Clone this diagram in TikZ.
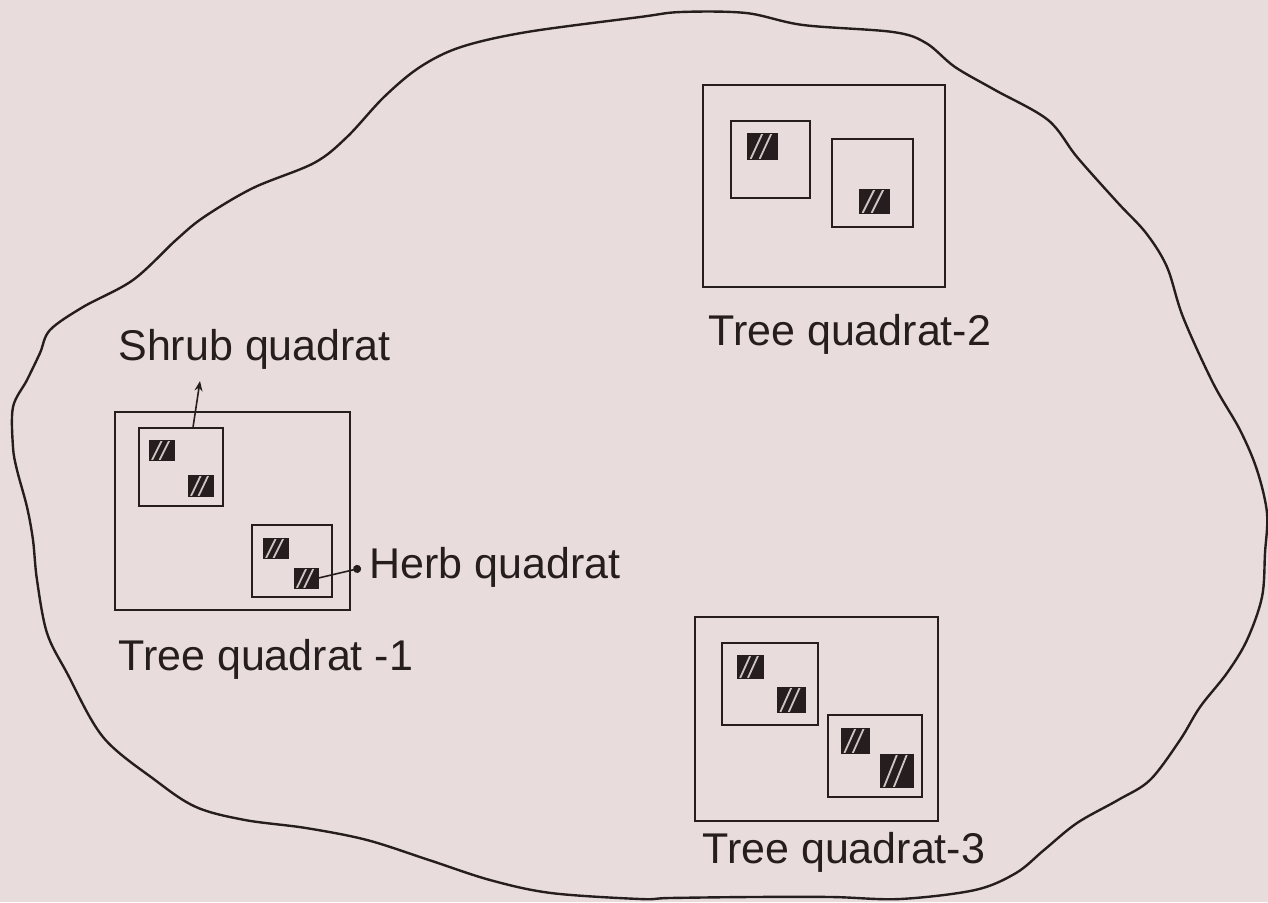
\documentclass[tikz,border=0pt]{standalone}
\usepackage{fontspec}
\setmainfont{Liberation Sans}
\usetikzlibrary{calc,arrows.meta}

\definecolor{paper}{RGB}{232,221,220}
\definecolor{ink}{RGB}{38,30,30}
\definecolor{streak}{RGB}{205,196,195}

\tikzset{
  treebox/.style={draw=ink, line width=1.2pt, inner sep=0pt},
  shrubbox/.style={draw=ink, line width=1.1pt, inner sep=0pt},
  herbbox/.style={draw=ink, fill=ink, line width=0.5pt, inner sep=0pt,
    path picture={
      \draw[streak, line width=0.9pt]
        ($(path picture bounding box.south west)!0.12!(path picture bounding box.south east)$) --
        ($(path picture bounding box.north west)!0.52!(path picture bounding box.north east)$);
      \draw[streak, line width=0.9pt]
        ($(path picture bounding box.south west)!0.42!(path picture bounding box.south east)$) --
        ($(path picture bounding box.north west)!0.82!(path picture bounding box.north east)$);
    }},
  lbl/.style={inner sep=0pt, anchor=base west, text=ink,
    font=\fontsize{21.5}{25}\selectfont},
  pointer/.style={draw=ink, line width=0.8pt},
}

\begin{document}
\begin{tikzpicture}[x=0.5pt, y=-0.5pt]
  \useasboundingbox (0,0) rectangle (1268,902);
  \fill[paper] (0,0) rectangle (1268,902);

  % outline of the sampled area
  \draw[ink, line width=1.2pt] plot[smooth cycle, tension=0.55] coordinates {
    (640,17) (681,12) (746,13) (803,25) (893,32) (926,43) (955,67)
    (995,90) (1048,120) (1077,157) (1118,203) (1146,233) (1167,267)
    (1183,317) (1213,383) (1240,430) (1257,470) (1267,513) (1265,553)
    (1262,597) (1247,640) (1227,673) (1200,707) (1180,740) (1150,780)
    (1118,800) (1077,823) (1044,850) (1016,873) (975,890) (900,899)
    (832,897) (750,897) (669,898) (640,899) (551,893) (490,880)
    (429,860) (367,840) (306,828) (245,820) (196,807) (155,780)
    (103,737) (67,673) (47,633) (37,580) (33,540) (27,507) (17,470)
    (13,447) (13,407) (27,380) (40,353) (50,330) (83,307) (133,280)
    (176,240) (204,217) (253,188) (314,163) (347,137) (384,97)
    (420,67) (461,47) (527,32)};

  % tree quadrat 1
  \node[treebox, minimum width=117.5pt, minimum height=99pt] (t1) at (232.5,511) {};
  \node[shrubbox, minimum width=42pt, minimum height=39pt] (s1) at (181,467) {};
  \node[herbbox, minimum width=12.5pt, minimum height=10pt] (h1) at (161.5,450) {};
  \node[herbbox, minimum width=12.5pt, minimum height=10.5pt] (h2) at (200.5,485.5) {};
  \node[shrubbox, minimum width=40pt, minimum height=36pt] (s2) at (292,561) {};
  \node[herbbox, minimum width=12.5pt, minimum height=10pt] (h3) at (275.5,548) {};
  \node[herbbox, minimum width=12pt, minimum height=10pt] (h4) at (306,578) {};

  % tree quadrat 2
  \node[treebox, minimum width=121pt, minimum height=101pt] (t2) at (824,186) {};
  \node[shrubbox, minimum width=39.5pt, minimum height=38.5pt] (s3) at (770.5,159.5) {};
  \node[herbbox, minimum width=15pt, minimum height=13pt] (h5) at (762,146) {};
  \node[shrubbox, minimum width=40.5pt, minimum height=44pt] (s4) at (872.5,183) {};
  \node[herbbox, minimum width=15pt, minimum height=12pt] (h6) at (874,201) {};

  % tree quadrat 3
  \node[treebox, minimum width=121.5pt, minimum height=102pt] (t3) at (816.5,719) {};
  \node[shrubbox, minimum width=48pt, minimum height=41pt] (s5) at (770,684) {};
  \node[herbbox, minimum width=13pt, minimum height=11.5pt] (h7) at (750,666.5) {};
  \node[herbbox, minimum width=14pt, minimum height=12.5pt] (h8) at (791,699.5) {};
  \node[shrubbox, minimum width=47pt, minimum height=41pt] (s6) at (875,756) {};
  \node[herbbox, minimum width=14pt, minimum height=12.5pt] (h9) at (855,740.5) {};
  \node[herbbox, minimum width=16.5pt, minimum height=16.5pt] (h10) at (896.5,770.5) {};

  % labels
  \node[lbl] (lshrub) at (118,360) {Shrub quadrat};
  \node[lbl] (lherb) at (369,578) {Herb quadrat};
  \node[lbl] (lt1) at (118,670) {Tree quadrat -1};
  \node[lbl] (lt2) at (708,345) {Tree quadrat-2};
  \node[lbl] (lt3) at (702,863) {Tree quadrat-3};

  % pointers
  \coordinate (shrubtip) at (200,381);
  \coordinate (herbtip) at (361,568);
  \draw[pointer, -{Stealth[length=5pt,width=4pt]}]
    ($(s1.north west)!0.64!(s1.north east)$) -- (shrubtip);
  \draw[pointer, -{Circle[length=4pt]}] (h4.east) -- (herbtip);
\end{tikzpicture}
\end{document}
